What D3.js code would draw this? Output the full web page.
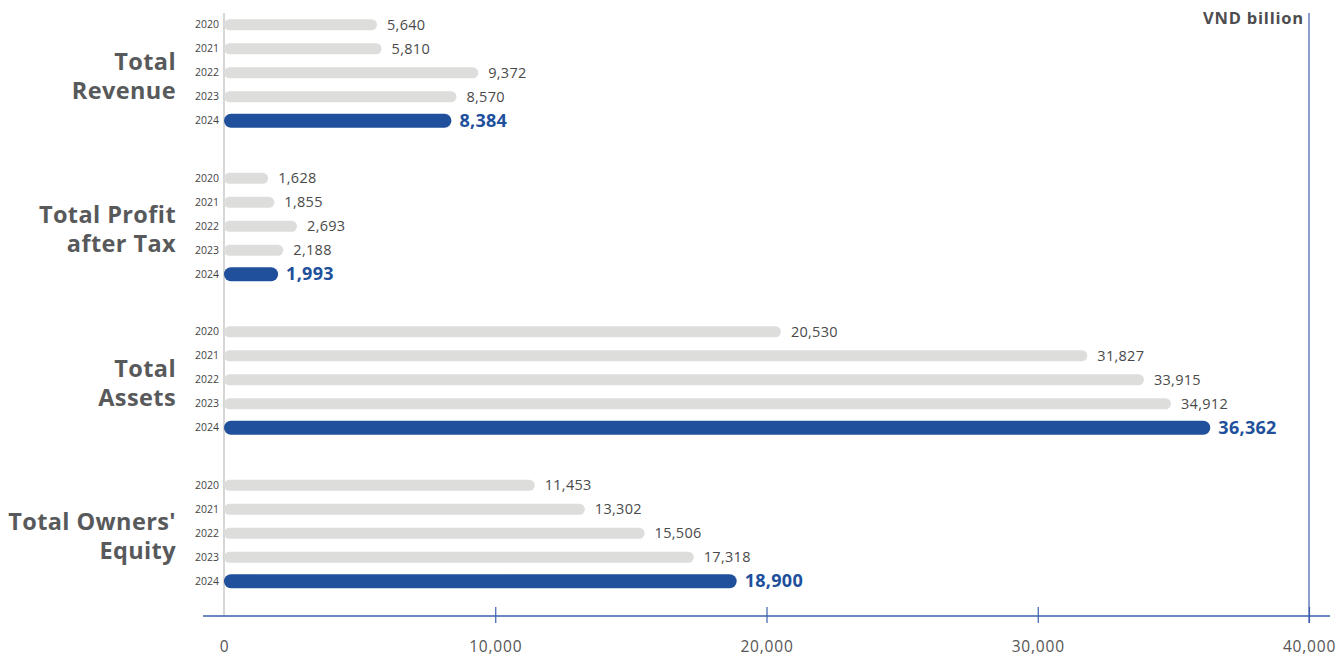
<!DOCTYPE html>
<html>
<head>
<meta charset="utf-8">
<script src="https://cdn.jsdelivr.net/npm/d3@7"></script>
<style>
  html, body { margin: 0; padding: 0; background: #ffffff; }
  svg { display: block; font-family: "Open Sans", "Noto Sans", sans-serif; }
</style>
</head>
<body>
<svg id="chart" width="1338" height="657"></svg>
<script>
// Key financial indicators, VND billion
const groups = ["Total Revenue", "Total Profit after Tax", "Total Assets", "Total Owners' Equity"];
const groupLines = [["Total", "Revenue"], ["Total Profit", "after Tax"], ["Total", "Assets"], ["Total Owners'", "Equity"]];
const years = ["2020", "2021", "2022", "2023", "2024"];
const revenue = [5640, 5810, 9372, 8570, 8384];
const profitAfterTax = [1628, 1855, 2693, 2188, 1993];
const totalAssets = [20530, 31827, 33915, 34912, 36362];
const ownersEquity = [11453, 13302, 15506, 17318, 18900];
const xTicks = [0, 10000, 20000, 30000, 40000];
const unitLabel = "VND billion";

const seriesByGroup = [revenue, profitAfterTax, totalAssets, ownersEquity];

const svg = d3.select("#chart");
const grey = "#dddddc";
const blue = "#20509c";
const axisBlue = "#3d5fae";
const textGrey = "#4d4d4f";

const x = d3.scaleLinear().domain([0, 40000]).range([224, 1309]);
const yGroup = d3.scaleBand().domain(groups).range([-4, 610]).paddingInner(0);
const yYear = d3.scaleBand().domain(years).range([-60, 60]);

const fmt = d3.format(",");

// left baseline
svg.append("line")
  .attr("x1", x(0)).attr("x2", x(0))
  .attr("y1", 13).attr("y2", 617)
  .attr("stroke", "#d6d6d6").attr("stroke-width", 2);

// right frame line
svg.append("line")
  .attr("x1", x(40000)).attr("x2", x(40000))
  .attr("y1", 13).attr("y2", 623)
  .attr("stroke", axisBlue).attr("stroke-width", 1.2);

// bottom axis
const axisY = 616;
const axis = d3.axisBottom(x).tickValues(xTicks).tickFormat(fmt).tickSize(8).tickPadding(17);
const gAxis = svg.append("g").attr("transform", `translate(0,${axisY})`).call(axis);
gAxis.select(".domain").remove();
gAxis.append("line")
  .attr("x1", x(0) - 21).attr("x2", x(40000) + 21)
  .attr("y1", 0).attr("y2", 0)
  .attr("stroke", axisBlue).attr("stroke-width", 1.6);
gAxis.selectAll(".tick line")
  .attr("y1", -9).attr("y2", 7)
  .attr("stroke", axisBlue).attr("stroke-width", 1.2)
  .attr("opacity", d => d === 0 ? 0 : 1);
gAxis.selectAll(".tick text")
  .attr("fill", "#555").attr("font-size", 15.5)
  .attr("letter-spacing", 0.8)
  .attr("font-family", "\"Open Sans\", \"Noto Sans\", sans-serif");

// unit label
svg.append("text")
  .attr("x", x(40000) - 5).attr("y", 24)
  .attr("text-anchor", "end")
  .attr("font-size", 16.5).attr("font-weight", 700)
  .attr("letter-spacing", 0.8)
  .attr("fill", textGrey)
  .text(unitLabel);

groups.forEach((g, gi) => {
  const cy = yGroup(g) + yGroup.bandwidth() / 2;
  const vals = seriesByGroup[gi];
  const gG = svg.append("g").attr("transform", `translate(0,${cy})`);

  // group title
  const t = gG.append("text")
    .attr("x", 176).attr("text-anchor", "end")
    .attr("font-size", 23.5).attr("font-weight", 700)
    .attr("letter-spacing", 0.4)
    .attr("fill", "#58595b");
  groupLines[gi].forEach((line, li) => {
    t.append("tspan").attr("x", 176).attr("y", li === 0 ? -3 : 26).text(line);
  });

  years.forEach((yr, i) => {
    const v = vals[i];
    const isLast = i === years.length - 1;
    const yc = yYear(yr) + yYear.bandwidth() / 2;
    const h = isLast ? 14 : 11;

    gG.append("text")
      .attr("x", 219).attr("y", yc + 3.5)
      .attr("text-anchor", "end")
      .attr("font-size", 10.5)
      .attr("fill", "#444")
      .text(yr);

    gG.append("rect")
      .attr("x", x(0)).attr("y", yc - h / 2)
      .attr("width", x(v) - x(0)).attr("height", h)
      .attr("rx", h / 2).attr("ry", h / 2)
      .attr("fill", isLast ? blue : grey);

    gG.append("text")
      .attr("x", x(v) + (isLast ? 8 : 10))
      .attr("y", yc + (isLast ? 6 : 5))
      .attr("font-size", isLast ? 18 : 14.5)
      .attr("font-weight", isLast ? 700 : 400)
      .attr("letter-spacing", 0.3)
      .attr("fill", isLast ? blue : "#4a4a4a")
      .text(fmt(v));
  });
});
</script>
</body>
</html>
